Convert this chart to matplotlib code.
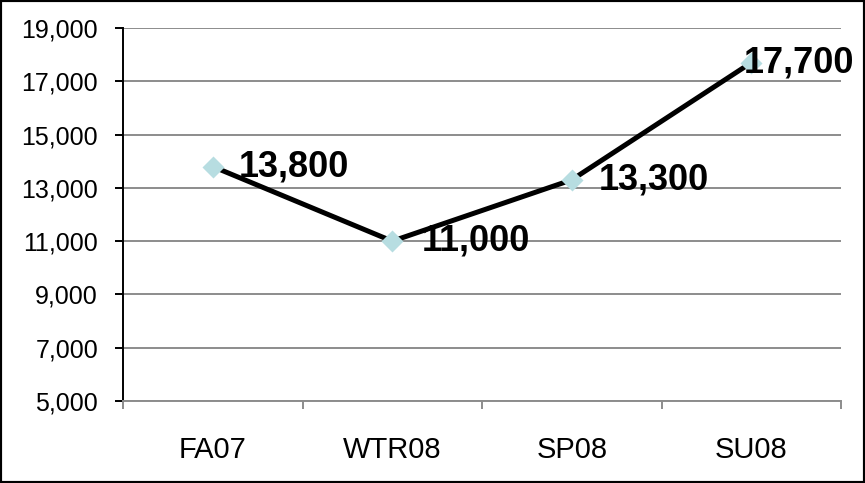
import matplotlib.pyplot as plt
from matplotlib.patches import Rectangle
from matplotlib.ticker import FuncFormatter, FixedLocator

terms = ['FA07', 'WTR08', 'SP08', 'SU08']
enrollment = [13800, 11000, 13300, 17700]
y_ticks = list(range(5000, 19001, 2000))

# label offsets in pixels (last one is pulled back inside the chart)
label_dx = [26, 30, 27, -7]

plt.rcParams['font.family'] = ['Liberation Sans', 'DejaVu Sans']

fig = plt.figure(figsize=(8.65, 4.83), dpi=100)
ax = fig.add_axes([123 / 865, 82 / 483, 718 / 865, 373 / 483])

x = list(range(len(terms)))
ax.plot(x, enrollment, color='black', lw=3.6, zorder=3,
        marker='D', ms=11, mfc='#b7dde1', mec='none')

for xi, val, dx in zip(x, enrollment, label_dx):
    ax.annotate(f'{val:,}', (xi, val), xytext=(dx, 0), textcoords='offset pixels',
                ha='left', va='center', fontsize=26, fontweight='bold', zorder=4)

ax.set_xlim(-0.5, len(terms) - 0.5)
ax.set_ylim(y_ticks[0], y_ticks[-1])
ax.set_yticks(y_ticks)
ax.yaxis.set_major_formatter(FuncFormatter(lambda v, p: f'{int(v):,}'))
ax.yaxis.grid(True, color='#8c8c8c', lw=1.4)
ax.set_axisbelow(True)

ax.set_xticks(x)
ax.set_xticklabels(terms)
ax.xaxis.set_minor_locator(FixedLocator([i - 0.5 for i in range(len(terms) + 1)]))
ax.tick_params(axis='x', which='major', length=0, pad=25, labelsize=21)
ax.tick_params(axis='x', which='minor', length=6, width=1.4, color='#8c8c8c', direction='out')
ax.tick_params(axis='y', length=6, width=1.4, color='black', pad=12, labelsize=18)

for s in ['top', 'right']:
    ax.spines[s].set_visible(False)
ax.spines['left'].set_color('black')
ax.spines['left'].set_linewidth(1.4)
ax.spines['bottom'].set_color('#8c8c8c')
ax.spines['bottom'].set_linewidth(1.4)

fig.patches.append(Rectangle((0, 0), 1, 1, transform=fig.transFigure,
                             fill=False, ec='black', lw=3, zorder=10))

fig.savefig('out.png', dpi=100)
